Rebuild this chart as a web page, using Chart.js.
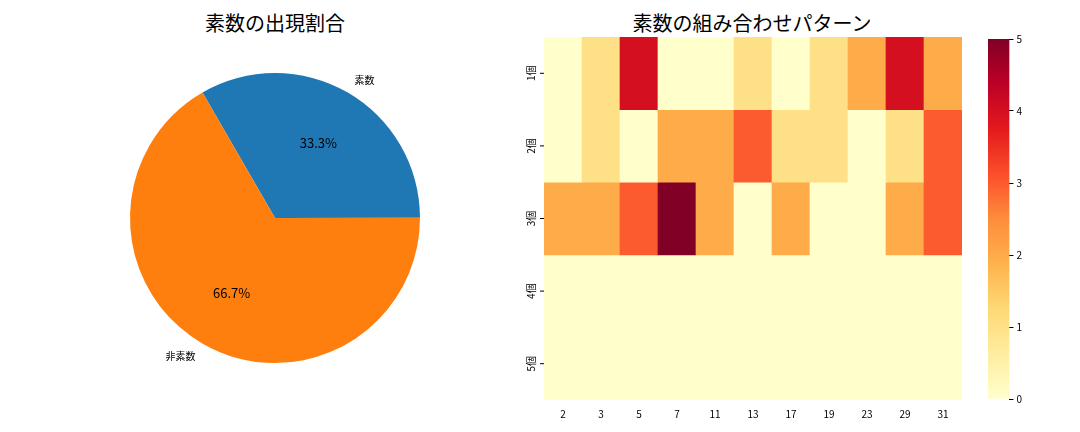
<!DOCTYPE html>
<html><head><meta charset="utf-8">
<script src="https://cdn.jsdelivr.net/npm/chart.js@4.4.1/dist/chart.umd.min.js"></script>
<style>
body{margin:0;background:#fff;width:1080px;height:432px;position:relative;font-family:"Noto Sans CJK JP","Noto Sans",sans-serif}
.t{position:absolute;top:8px;font-size:20px;color:#000;text-align:center}
canvas{position:absolute}
</style></head><body>
<div class="t" style="left:75px;width:400px">素数の出現割合</div>
<div class="t" style="left:552px;width:400px">素数の組み合わせパターン</div>
<div style="position:absolute;left:0;top:40px;width:550px;height:392px"><canvas id="pie"></canvas></div>
<div style="position:absolute;left:510px;top:30px;width:460px;height:402px"><canvas id="heat"></canvas></div>
<div style="position:absolute;left:975px;top:30px;width:100px;height:402px"><canvas id="bar"></canvas></div>
<script>
const pieLabels = ['素数', '非素数'];
const pieValues = [33.3, 66.7];
const pieColors = ['#1f77b4', '#ff7f0e'];
const primes = ['2','3','5','7','11','13','17','19','23','29','31'];
const rowLabels = ['1個','2個','3個','4個','5個'];
const row1 = [0,1,4,0,0,1,0,1,2,4,2];
const row2 = [0,1,0,2,2,3,1,1,0,1,3];
const row3 = [2,2,3,5,2,0,2,0,0,2,3];
const row4 = [0,0,0,0,0,0,0,0,0,0,0];
const row5 = [0,0,0,0,0,0,0,0,0,0,0];
const rows = [row1,row2,row3,row4,row5];
const vmax = 5;

const stops = ['#ffffcc','#ffeda0','#fed976','#feb24c','#fd8d3c','#fc4e2a','#e31a1c','#bd0026','#800026'];
const hex = h => [1,3,5].map(i=>parseInt(h.slice(i,i+2),16));
function cmap(v){
  const t = Math.max(0,Math.min(1,v/vmax))*(stops.length-1);
  const i = Math.min(Math.floor(t), stops.length-2), f = t-i;
  const a = hex(stops[i]), b = hex(stops[i+1]);
  return `rgb(${a.map((x,k)=>Math.round(x+(b[k]-x)*f)).join(',')})`;
}
Chart.defaults.font.family = '"Noto Sans CJK JP","Noto Sans",sans-serif';
Chart.defaults.color = '#000';
Chart.defaults.animation = false;

const pieText = {
  id:'pieText',
  afterDraw(c){
    const ctx=c.ctx, m=c.getDatasetMeta(0);
    ctx.save(); ctx.fillStyle='#000'; ctx.textAlign='center'; ctx.textBaseline='middle';
    m.data.forEach((a,i)=>{
      const mid=(a.startAngle+a.endAngle)/2, r=a.outerRadius;
      ctx.font='13px "Noto Sans CJK JP"';
      ctx.fillText(pieValues[i].toFixed(1)+'%', a.x+Math.cos(mid)*r*0.6, a.y+Math.sin(mid)*r*0.6);
      ctx.font='10px "Noto Sans CJK JP"';
      ctx.textAlign = Math.cos(mid)>0?'left':'right';
      ctx.fillText(pieLabels[i], a.x+Math.cos(mid)*r*1.1, a.y+Math.sin(mid)*r*1.1);
      ctx.textAlign='center';
    });
    ctx.restore();
  }
};
new Chart(document.getElementById('pie'),{
  type:'pie',
  data:{labels:pieLabels,datasets:[{data:pieValues,backgroundColor:pieColors,borderWidth:0}]},
  options:{responsive:true,maintainAspectRatio:false,rotation:-30,
    layout:{padding:{left:130,right:130,top:33,bottom:69}},
    plugins:{legend:{display:false},tooltip:{enabled:false}}},
  plugins:[pieText]
});

const yLabels = {
  id:'yLabels',
  afterDraw(c){
    const ctx=c.ctx, y=c.scales.y;
    ctx.save(); ctx.font='10px "Noto Sans CJK JP"'; ctx.fillStyle='#000';
    ctx.textAlign='center'; ctx.textBaseline='middle';
    rowLabels.forEach((l,i)=>{
      const py=y.getPixelForValue(i);
      ctx.strokeStyle='#000'; ctx.beginPath(); ctx.moveTo(c.chartArea.left-4,py); ctx.lineTo(c.chartArea.left,py); ctx.stroke();
      ctx.save(); ctx.translate(c.chartArea.left-13,py); ctx.rotate(-Math.PI/2); ctx.fillText(l,0,0); ctx.restore();
    });
    ctx.restore();
  }
};
new Chart(document.getElementById('heat'),{
  type:'bar',
  data:{labels:primes,datasets:rows.map((r,ri)=>({
    data:r.map(()=>[ri-0.5,ri+0.5]),
    backgroundColor:r.map(cmap),borderWidth:0,grouped:false,
    barPercentage:1,categoryPercentage:1
  }))},
  options:{responsive:true,maintainAspectRatio:false,
    layout:{padding:{left:34,right:8,top:7,bottom:12}},
    scales:{
      x:{grid:{display:false},border:{display:false},ticks:{font:{size:10},maxRotation:0,padding:0}},
      y:{min:-0.5,max:4.5,reverse:true,display:false}
    },
    plugins:{legend:{display:false},tooltip:{enabled:false}}},
  plugins:[yLabels]
});

new Chart(document.getElementById('bar'),{
  type:'bar',
  data:{labels:[''],datasets:[{data:[[0,vmax]],borderWidth:0,barPercentage:1,categoryPercentage:1,
    backgroundColor(ctx){
      const a=ctx.chart.chartArea; if(!a) return '#fff';
      const g=ctx.chart.ctx.createLinearGradient(0,a.bottom,0,a.top);
      stops.forEach((s,i)=>g.addColorStop(i/(stops.length-1),s));
      return g;
    }}]},
  options:{responsive:true,maintainAspectRatio:false,
    layout:{padding:{left:13,right:50,top:5,bottom:33}},
    scales:{
      x:{display:false},
      y:{position:'right',min:0,max:vmax,grid:{display:true,drawOnChartArea:false,tickLength:4,color:'#000'},border:{display:false},
        ticks:{stepSize:1,font:{size:10},padding:3}}
    },
    plugins:{legend:{display:false},tooltip:{enabled:false}}}
});
</script>
</body></html>
